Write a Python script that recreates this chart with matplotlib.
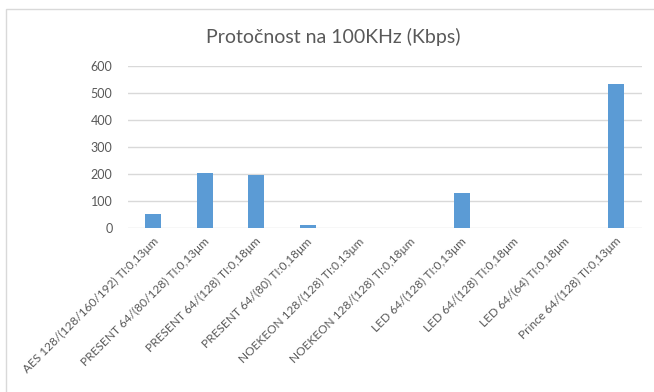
import matplotlib
matplotlib.use("Agg")
import matplotlib.pyplot as plt
import matplotlib.transforms as mtransforms
from matplotlib.patches import Rectangle

plt.rcParams['font.family'] = ['Lato', 'DejaVu Sans']

categories = [
    "AES 128/(128/160/192) TI:0,13μm",
    "PRESENT 64/(80/128) TI:0,13μm",
    "PRESENT 64/(128) TI:0,18μm",
    "PRESENT 64/(80) TI:0,18μm",
    "NOEKEON 128/(128) TI:0,13μm",
    "NOEKEON 128/(128) TI:0,18μm",
    "LED 64/(128) TI:0,13μm",
    "LED 64/(128) TI:0,18μm",
    "LED 64/(64) TI:0,18μm",
    "Prince 64/(128) TI:0,13μm",
]
throughput = [53, 204, 196, 10, 0, 0, 130, 0, 0, 532]
yticks = [0, 100, 200, 300, 400, 500, 600]
title = "Protočnost na 100KHz (Kbps)"

text_color = "#595959"
grid_color = "#d9d9d9"
bar_color = "#5b9bd5"

fig = plt.figure(figsize=(6.54, 3.92), dpi=100)
fig.patch.set_facecolor("white")

# chart-area frame
fig.patches.append(Rectangle((6 / 654, -0.05), 1.1, (392 - 9) / 392 + 0.05,
                             transform=fig.transFigure, fill=False,
                             edgecolor=grid_color, linewidth=1.0))

ax = fig.add_axes([127.7 / 654, 164 / 392, 514 / 654, 162 / 392])
x = list(range(len(categories)))
ax.bar(x, throughput, width=0.31, color=bar_color, zorder=3)

ax.set_xlim(-0.5, len(categories) - 0.5)
ax.set_ylim(0, 600)
ax.set_yticks(yticks)
ax.set_yticklabels([str(v) for v in yticks])
ax.yaxis.grid(True, color=grid_color, linewidth=1.0, zorder=0)
ax.set_axisbelow(True)
for s in ax.spines.values():
    s.set_visible(False)

ax.tick_params(axis='y', length=0, pad=11, labelsize=9, labelcolor=text_color)
ax.tick_params(axis='x', length=0, pad=4, labelsize=8.6, labelcolor=text_color)
ax.set_xticks(x)
ax.set_xticklabels(categories, rotation=45, ha='right', va='center',
                   rotation_mode='anchor')
shift = mtransforms.ScaledTranslation(0.03, -0.06, fig.dpi_scale_trans)
for lbl in ax.get_xticklabels():
    lbl.set_transform(lbl.get_transform() + shift)

fig.text(333 / 654, (392 - 37) / 392, title, ha='center', va='center',
         fontsize=14, color=text_color)

fig.savefig("out.png", dpi=100, facecolor="white")
